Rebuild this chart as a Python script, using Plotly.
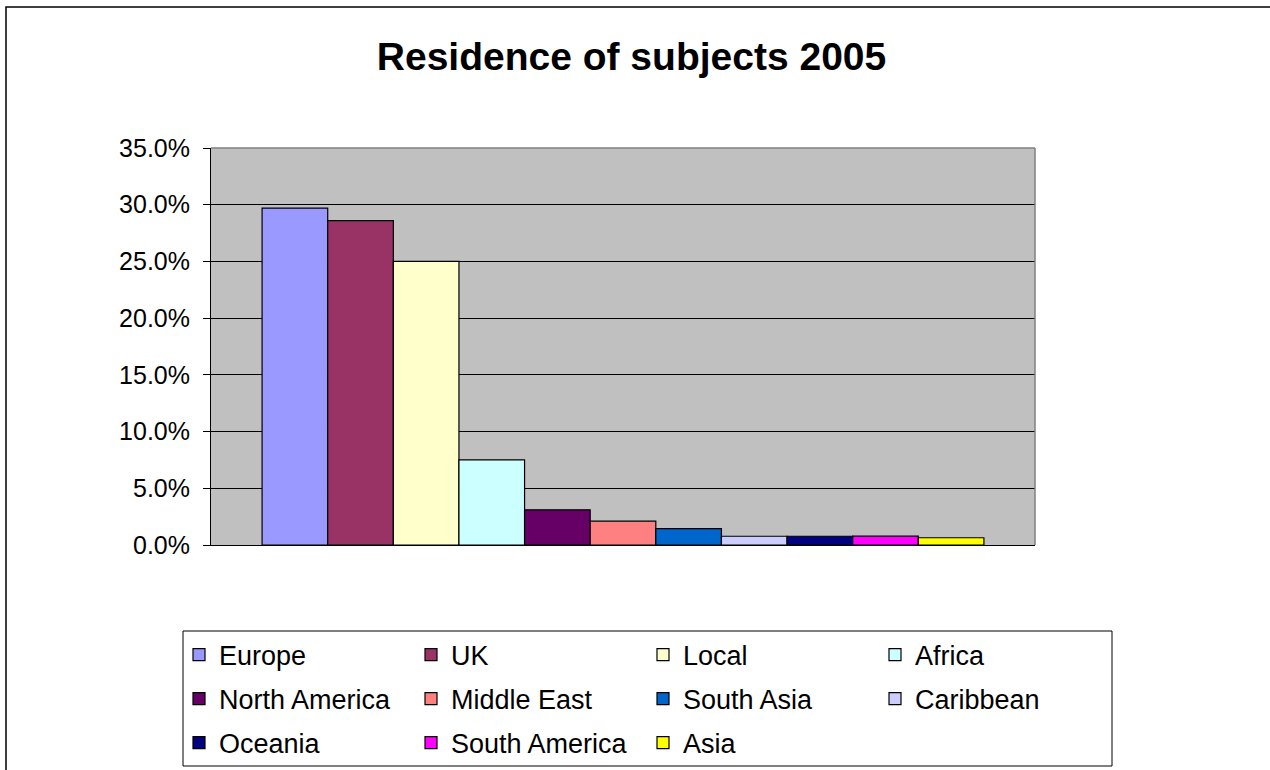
import plotly.graph_objects as go

# ---- data ----
regions = ["Europe", "UK", "Local", "Africa", "North America", "Middle East",
           "South Asia", "Caribbean", "Oceania", "South America", "Asia"]
shares = [0.297, 0.286, 0.250, 0.075, 0.031, 0.021, 0.0144, 0.0077, 0.0077, 0.0079, 0.0064]
colors = ["#9999FF", "#993366", "#FFFFCC", "#CCFFFF", "#660066", "#FF8080",
          "#0066CC", "#CCCCFF", "#000080", "#FF00FF", "#FFFF00"]
category = ["2005"]
y_ticks = [0, 0.05, 0.10, 0.15, 0.20, 0.25, 0.30, 0.35]

W, H = 1270, 770
L, R, T, B = 211, 1035, 148, 545  # plot area in pixels
PW, PH = R - L, B - T


def px(x):
    return (x - L) / PW


def py(y):
    return (B - y) / PH


FONT = "Liberation Sans, Arial, sans-serif"

fig = go.Figure()
legend_ids = ["legend"] * 4 + ["legend2"] * 4 + ["legend3"] * 3
for name, val, col, lg in zip(regions, shares, colors, legend_ids):
    fig.add_trace(go.Bar(
        x=category, y=[val], name=name,
        marker=dict(color=col, line=dict(color="black", width=1.2)),
        legend=lg,
        hovertemplate=name + ": %{y:.1%}<extra></extra>",
    ))

legend_common = dict(
    orientation="h", xref="paper", yref="paper",
    x=px(179), xanchor="left", yanchor="middle",
    entrywidth=187, entrywidthmode="pixels", itemwidth=30,
    bgcolor="rgba(0,0,0,0)", borderwidth=0,
    font=dict(family=FONT, size=27, color="black"),
    traceorder="normal",
)

fig.update_layout(
    width=W, height=H,
    margin=dict(l=L, r=W - R, t=T, b=H - B, autoexpand=False),
    paper_bgcolor="white",
    plot_bgcolor="#C0C0C0",
    barmode="group", bargap=0.124, bargroupgap=0,
    title=dict(text="<b>Residence of subjects 2005</b>",
               x=631.5 / W, xref="container", xanchor="center",
               y=1 - 56 / H, yref="container", yanchor="middle",
               font=dict(family=FONT, size=39, color="black")),
    legend=dict(**legend_common, y=py(655)),
    legend2=dict(**legend_common, y=py(699)),
    legend3=dict(**legend_common, y=py(743)),
    xaxis=dict(range=[-0.5, 0.5], showticklabels=False, ticks="",
               showgrid=False, showline=True, linecolor="black", linewidth=1,
               zeroline=False, fixedrange=True),
    yaxis=dict(range=[0, 0.35], tickvals=y_ticks, tickformat=".1%",
               showgrid=True, gridcolor="black", gridwidth=1,
               showline=True, linecolor="black", linewidth=1,
               ticks="outside", ticklen=7, tickcolor="black",
               ticklabelstandoff=8,
               tickfont=dict(family=FONT, size=25, color="black"),
               zeroline=False, fixedrange=True),
    showlegend=True,
    shapes=[
        # plot-area border (gray) on top and right
        dict(type="line", xref="paper", yref="paper", x0=0, x1=1, y0=1, y1=1,
             line=dict(color="#808080", width=1.5)),
        dict(type="line", xref="paper", yref="paper", x0=1, x1=1, y0=0, y1=1,
             line=dict(color="#808080", width=1.5)),
        # legend box
        dict(type="rect", xref="paper", yref="paper",
             x0=px(183), x1=px(1112), y0=py(631), y1=py(766),
             line=dict(color="black", width=1), fillcolor="rgba(0,0,0,0)"),
        # outer chart border
        dict(type="rect", xref="paper", yref="paper",
             x0=px(6), x1=px(1290), y0=py(7), y1=py(790),
             line=dict(color="black", width=1.5), fillcolor="rgba(0,0,0,0)"),
    ],
)

fig.write_html("out.html")
